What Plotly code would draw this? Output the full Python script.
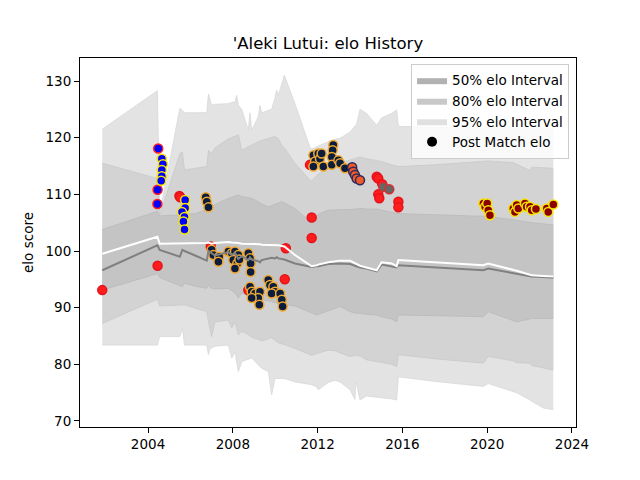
import plotly.graph_objects as go

# dates (decimal years) where the interval bands and lines were read
band_year = [2001.84, 2004.44, 2004.55, 2005.50, 2005.62, 2005.72, 2006.22, 2006.77, 2006.85, 2006.92,
             2007.00, 2007.16, 2007.79, 2007.95, 2008.10, 2008.18, 2008.26, 2008.42, 2008.73, 2008.81,
             2008.89, 2009.20, 2009.28, 2009.36, 2009.68, 2009.83, 2009.99, 2010.07, 2010.15, 2010.31,
             2010.43, 2010.93, 2011.64, 2011.72, 2011.96, 2012.03, 2012.50, 2012.82, 2013.06, 2013.53,
             2013.76, 2013.80, 2013.84, 2014.00, 2014.30, 2014.79, 2015.02, 2015.50, 2015.73, 2015.81,
             2017.50, 2019.82, 2020.05, 2021.23, 2021.39, 2022.02, 2022.10, 2022.65, 2023.12]
upper_95 = [121.5, 128.3, 106.6, 125.2, 124.8, 124.4, 124.4, 124.4, 127.7, 126.5,
            125.7, 125.9, 126.0, 126.2, 126.3, 127.5, 125.7, 125.0, 121.3, 124.4,
            121.3, 123.7, 125.7, 124.4, 124.8, 125.0, 127.0, 128.4, 127.5, 129.5,
            131.0, 126.0, 118.3, 118.0, 118.4, 118.6, 119.3, 119.7, 119.9, 121.0,
            122.0, 122.2, 122.4, 125.0, 124.3, 122.2, 123.5, 124.3, 124.9, 122.0,
            121.8, 121.6, 121.8, 121.7, 121.6, 121.5, 121.5, 121.5, 121.5]
upper_80 = [115.5, 112.8, 106.4, 117.2, 117.5, 114.3, 114.6, 114.9, 117.8, 117.5,
            117.2, 118.2, 119.8, 120.0, 120.2, 120.4, 120.5, 117.8, 118.4, 118.6,
            118.8, 119.3, 119.4, 119.5, 119.9, 120.1, 120.2, 120.0, 119.8, 118.6,
            118.2, 115.5, 112.5, 112.4, 113.2, 113.6, 114.6, 115.0, 115.5, 116.0,
            116.3, 116.3, 116.4, 116.6, 116.3, 116.0, 115.8, 115.2, 114.9, 114.9,
            115.2, 115.8, 115.9, 115.6, 115.3, 114.2, 114.8, 114.7, 114.6]
upper_50 = [103.8, 107.0, 106.2, 106.3, 106.4, 106.5, 106.6, 107.3, 107.5, 107.7,
            107.8, 108.2, 109.3, 109.5, 109.7, 109.8, 109.9, 109.6, 109.4, 109.3,
            109.3, 108.7, 108.5, 108.3, 107.8, 108.0, 108.3, 108.4, 108.5, 108.7,
            108.5, 107.5, 105.2, 105.3, 106.2, 106.5, 107.2, 107.3, 107.3, 107.3,
            107.4, 107.4, 107.4, 107.5, 107.4, 107.4, 107.2, 106.8, 106.6, 106.6,
            106.4, 106.1, 106.1, 105.5, 105.4, 105.0, 105.0, 104.8, 104.6]
lower_50 = [93.1, 96.0, 95.3, 94.0, 93.7, 94.3, 93.8, 93.4, 94.0, 93.6,
            93.4, 93.3, 93.4, 93.0, 92.6, 92.2, 91.7, 92.6, 92.0, 91.8,
            91.7, 91.5, 91.4, 91.3, 91.2, 91.0, 90.8, 90.8, 90.7, 90.6,
            90.5, 90.3, 89.2, 89.1, 88.7, 88.8, 89.4, 89.8, 90.2, 89.3,
            89.1, 89.1, 89.0, 89.0, 88.8, 88.7, 88.4, 88.0, 87.5, 88.7,
            88.6, 88.4, 89.3, 87.8, 87.5, 88.0, 88.1, 88.1, 88.1]
lower_80 = [87.2, 91.5, 90.3, 90.4, 90.5, 90.5, 89.9, 89.3, 87.5, 86.0,
            84.9, 87.5, 87.8, 86.4, 87.5, 86.5, 85.2, 85.8, 85.3, 85.0,
            84.8, 84.4, 84.2, 84.1, 84.5, 84.7, 84.2, 84.0, 83.8, 83.6,
            83.5, 82.8, 81.7, 81.6, 81.9, 82.0, 82.5, 82.4, 82.0, 81.4,
            81.6, 81.7, 81.5, 81.5, 80.8, 80.5, 80.4, 80.0, 79.6, 81.7,
            81.0, 80.2, 81.4, 80.6, 80.3, 80.2, 79.8, 79.3, 79.0]
lower_95 = [83.4, 83.4, 84.9, 84.9, 86.4, 83.4, 83.4, 83.4, 81.7, 82.8,
            82.9, 83.2, 83.4, 81.1, 82.2, 80.5, 78.7, 80.5, 80.8, 81.0,
            81.1, 80.0, 79.6, 79.3, 78.7, 74.6, 77.5, 77.5, 77.5, 77.5,
            77.5, 76.9, 76.5, 76.4, 76.0, 75.5, 76.8, 77.2, 76.9, 75.5,
            73.8, 76.9, 76.5, 73.7, 74.4, 74.2, 74.2, 73.9, 73.7, 77.8,
            77.0, 76.1, 76.6, 75.2, 75.0, 73.7, 73.5, 72.3, 72.0]
mean_elo = [99.5, 102.5, 101.3, 101.3, 101.4, 101.4, 101.4, 101.4, 101.5, 101.4,
            101.3, 101.4, 101.6, 101.5, 101.5, 101.5, 101.4, 101.3, 101.3, 101.3,
            101.2, 101.2, 101.2, 101.1, 101.1, 101.1, 101.0, 101.0, 101.0, 100.9,
            100.8, 99.3, 97.5, 97.3, 97.5, 97.6, 98.0, 98.2, 98.3, 98.3,
            97.9, 97.8, 97.7, 97.4, 97.1, 96.6, 98.0, 97.8, 97.3, 98.4,
            98.0, 97.5, 97.8, 96.7, 96.5, 95.8, 95.7, 95.6, 95.5]
median_elo = [96.6, 101.0, 100.2, 99.0, 100.2, 100.0, 99.2, 98.3, 100.0, 99.8,
              99.6, 99.2, 99.8, 99.3, 99.7, 99.2, 98.6, 99.1, 98.4, 98.9,
              98.5, 98.2, 98.0, 98.4, 98.6, 98.8, 98.7, 98.9, 98.7, 98.6,
              98.5, 97.8, 97.2, 97.2, 97.3, 97.3, 97.7, 97.8, 97.8, 97.7,
              97.4, 97.3, 97.3, 97.1, 96.9, 96.4, 97.6, 97.3, 97.1, 97.5,
              97.1, 96.6, 96.9, 96.1, 95.9, 95.6, 95.5, 95.4, 95.3]

# post match elo points, grouped by marker colours
red_x = [2001.84, 2004.45, 2005.48, 2005.52, 2006.96, 2008.73, 2010.45, 2010.50, 2011.64, 2011.72,
         2011.72, 2014.79, 2014.86, 2015.05, 2014.86, 2014.91, 2015.81, 2015.81]
red_y = [93.1, 97.4, 109.7, 109.5, 100.8, 93.1, 95.0, 100.5, 115.2, 105.9,
         102.3, 113.1, 112.8, 111.8, 110.0, 109.3, 108.7, 107.7]
blue_red_x = [2004.48, 2004.45, 2004.44]
blue_red_y = [118.1, 110.8, 108.3]
blue_yellow_x = [2004.65, 2004.70, 2004.65, 2004.65, 2004.62,
                 2005.75, 2005.75, 2005.60, 2005.72, 2005.67, 2005.72]
blue_yellow_y = [116.3, 115.3, 114.3, 113.2, 112.4,
                 109.0, 107.6, 106.9, 106.0, 105.2, 103.8]
navy_x = [2006.72, 2006.77, 2006.85, 2007.00, 2007.08, 2007.36, 2007.32, 2007.79, 2007.95, 2008.10,
          2008.26, 2008.02, 2008.21, 2008.31, 2008.10, 2008.73, 2008.81, 2008.84, 2008.84, 2008.81,
          2008.89, 2009.05, 2009.28, 2009.20, 2009.25, 2008.89, 2009.67, 2009.75, 2009.91, 2009.99,
          2009.83, 2010.23, 2010.31, 2010.35, 2011.80, 2011.88, 2011.80, 2012.03, 2012.11, 2012.27,
          2012.19, 2012.74, 2012.71, 2012.67, 2012.67, 2012.98, 2013.06, 2013.29]
navy_y = [109.5, 108.7, 107.7, 100.2, 99.3, 99.0, 98.1, 99.9, 99.6, 99.9,
          99.3, 98.4, 97.8, 98.5, 96.9, 99.6, 98.7, 97.8, 96.3, 93.7,
          92.8, 92.5, 92.8, 91.7, 90.5, 91.7, 94.9, 94.0, 93.7, 92.8,
          92.5, 92.5, 91.4, 90.2, 116.9, 115.8, 114.9, 117.2, 116.3, 114.9,
          117.2, 118.7, 117.8, 116.6, 115.2, 116.0, 115.5, 114.6]
orange_x = [2013.63, 2013.68, 2013.76, 2013.84, 2014.00]
orange_y = [114.8, 114.0, 113.4, 112.8, 112.5]
grey_x = [2015.10, 2015.38]
grey_y = [111.3, 110.9]
darkred_x = [2019.82, 2019.90, 2020.00, 2020.05, 2020.13, 2021.23, 2021.31, 2021.39, 2021.47, 2021.78,
             2021.86, 2022.02, 2022.10, 2022.30, 2022.81, 2022.88, 2023.12]
darkred_y = [108.4, 107.8, 108.4, 107.2, 106.3, 107.5, 106.9, 108.1, 107.5, 108.4,
             107.8, 107.8, 107.2, 107.4, 107.5, 106.9, 108.2]

fig = go.Figure()


def add_band(lo, hi, fill, edge):
    fig.add_trace(go.Scatter(x=band_year, y=lo, mode="lines", line=dict(color=edge, width=0.8),
                             showlegend=False, hoverinfo="skip"))
    fig.add_trace(go.Scatter(x=band_year, y=hi, mode="lines", fill="tonexty", fillcolor=fill,
                             line=dict(color=edge, width=0.8), showlegend=False, hoverinfo="skip"))


add_band(lower_95, upper_95, "#e3e3e3", "#d8d8d8")
add_band(lower_80, upper_80, "#d3d3d3", "#c9c9c9")
add_band(lower_50, upper_50, "#c4c4c4", "#bababa")

groups = [
    (red_x, red_y, "#ff1c1c", "#e4141c"),
    (blue_red_x, blue_red_y, "#0000ff", "#ff1c1c"),
    (blue_yellow_x, blue_yellow_y, "#0000ff", "#f5e600"),
    (navy_x, navy_y, "#0b1d3f", "#f0a830"),
    (orange_x, orange_y, "#ef5a28", "#2d2a5e"),
    (grey_x, grey_y, "#666666", "#d83030"),
    (darkred_x, darkred_y, "#8b0000", "#f5e600"),
]
for gx, gy, fill, edge in groups:
    fig.add_trace(go.Scatter(x=gx, y=gy, mode="markers", showlegend=False,
                             marker=dict(size=9, color=fill, line=dict(color=edge, width=1.5))))

fig.add_trace(go.Scatter(x=band_year, y=median_elo, mode="lines", line=dict(color="#808080", width=2),
                         showlegend=False))
fig.add_trace(go.Scatter(x=band_year, y=mean_elo, mode="lines", line=dict(color="white", width=2),
                         showlegend=False))

# legend entries
for name, col in [("50% elo Interval", "#b2b2b2"), ("80% elo Interval", "#c8c8c8"),
                  ("95% elo Interval", "#e0e0e0")]:
    fig.add_trace(go.Scatter(x=[None], y=[None], mode="lines", fill="toself", fillcolor=col,
                             line=dict(width=0, color=col), name=name, legendgroup=name))
fig.add_trace(go.Scatter(x=[None], y=[None], mode="markers", marker=dict(color="black", size=10),
                         name="Post Match elo", legendgroup="pts"))

axis_style = dict(showline=True, linecolor="black", linewidth=1, mirror=True, ticks="outside",
                  ticklen=5, tickcolor="black", showgrid=False, zeroline=False, automargin=False,
                  tickfont=dict(size=13.5, color="black"))
# the page puts the plot 8px in from the top left, so the figure is 8px smaller
fig.update_layout(
    width=632, height=472,
    margin=dict(l=72, r=64, t=50, b=53),
    paper_bgcolor="white", plot_bgcolor="white",
    font=dict(family="DejaVu Sans", color="black"),
    title=dict(text="'Aleki Lutui: elo History", x=0.5063, xanchor="center", y=0.926, yref="container",
               yanchor="middle", font=dict(size=16.5)),
    xaxis=dict(range=[2000.79, 2024.19], tick0=2004, dtick=4, tickformat="d", **axis_style),
    yaxis=dict(range=[68.94, 134.06], tick0=70, dtick=10,
               title=dict(text="elo score", font=dict(size=13.5), standoff=8), **axis_style),
    legend=dict(x=0.986, y=0.984, xanchor="right", yanchor="top", bgcolor="rgba(255,255,255,0.8)",
                bordercolor="#cccccc", borderwidth=1, font=dict(size=13.5), tracegroupgap=0),
    showlegend=True,
)

fig.write_html("out.html")
